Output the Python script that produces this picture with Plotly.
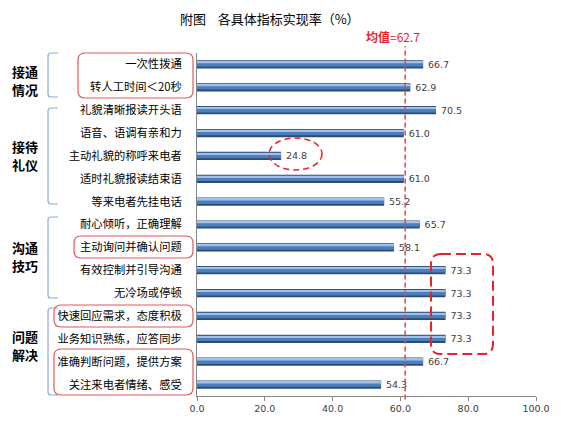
import plotly.graph_objects as go

# indicator names, top to bottom
items = [
    "一次性拨通",
    "转人工时间＜20秒",
    "礼貌清晰报读开头语",
    "语音、语调有亲和力",
    "主动礼貌的称呼来电者",
    "适时礼貌报读结束语",
    "等来电者先挂电话",
    "耐心倾听，正确理解",
    "主动询问并确认问题",
    "有效控制并引导沟通",
    "无冷场或停顿",
    "快速回应需求，态度积极",
    "业务知识熟练，应答同步",
    "准确判断问题，提供方案",
    "关注来电者情绪、感受",
]
rates = [66.7, 62.9, 70.5, 61.0, 24.8, 61.0, 55.2, 65.7, 58.1, 73.3, 73.3, 73.3, 73.3, 66.7, 54.3]
groups = [("接通", "情况"), ("接待", "礼仪"), ("沟通", "技巧"), ("问题", "解决")]
mean_label = "62.7"
mean_line_at = 61.4  # where the dashed line sits in the picture
x_ticks = [0, 20, 40, 60, 80, 100]

# the page body has an 8px margin, so the figure is drawn 8px in from the corner
OFF = 8
W, H = 561 - OFF, 427 - OFF
L, R, T, B = 197, 536, 53, 396  # plot area in page pixels


def px(x):
    return (x - L) / (R - L)


def py(y):
    return (B - y) / (B - T)


def rrect(x0, y0, x1, y1, r):
    pts = [
        ("M", [(x0 + r, y0)]),
        ("L", [(x1 - r, y0)]),
        ("Q", [(x1, y0), (x1, y0 + r)]),
        ("L", [(x1, y1 - r)]),
        ("Q", [(x1, y1), (x1 - r, y1)]),
        ("L", [(x0 + r, y1)]),
        ("Q", [(x0, y1), (x0, y1 - r)]),
        ("L", [(x0, y0 + r)]),
        ("Q", [(x0, y0), (x0 + r, y0)]),
    ]
    s = ""
    for cmd, ps in pts:
        s += cmd + " " + " ".join(f"{px(a):.4f},{py(b):.4f}" for a, b in ps) + " "
    return s + "Z"


def bracket(top, bot, x0=48, x1=58, r=3):
    return (f"M {px(x1):.4f},{py(top):.4f} L {px(x0 + r):.4f},{py(top):.4f} "
            f"Q {px(x0):.4f},{py(top):.4f} {px(x0):.4f},{py(top + r):.4f} "
            f"L {px(x0):.4f},{py(bot - r):.4f} "
            f"Q {px(x0):.4f},{py(bot):.4f} {px(x0 + r):.4f},{py(bot):.4f} "
            f"L {px(x1):.4f},{py(bot):.4f}")


fig = go.Figure()
# cylinder look: dark base, mid blue, light highlight
fig.add_trace(go.Bar(
    y=items, x=rates, orientation="h", width=0.36, offset=-0.18,
    marker=dict(color="#2B4C74", line=dict(width=0)),
    text=[f"\u2009{v:.1f}" for v in rates], textposition="outside", constraintext="none",
    textfont=dict(family="DejaVu Sans", size=9.5, color="#404040"),
    cliponaxis=False, hoverinfo="skip",
))
fig.add_trace(go.Bar(
    y=items, x=rates, orientation="h", width=0.25, offset=-0.15,
    marker=dict(color="#4A7EBD", line=dict(width=0)), hoverinfo="skip",
))
fig.add_trace(go.Bar(
    y=items, x=rates, orientation="h", width=0.07, offset=-0.12,
    marker=dict(color="#A4C0E4", line=dict(width=0)), hoverinfo="skip",
))

shapes = []
# mean line
shapes.append(dict(type="line", xref="x", yref="paper", x0=mean_line_at, x1=mean_line_at,
                   y0=-0.01, y1=1.02, line=dict(color="#DE4A4A", width=1.5, dash="5px,3px")))
# group brackets
for top, bot in [(53, 97), (108, 204), (217, 298), (308, 395)]:
    shapes.append(dict(type="path", xref="paper", yref="paper", path=bracket(top, bot),
                       line=dict(color="#8EA9D8", width=1.2)))
# red highlight boxes
for box in [(78, 53, 193, 98), (74, 236, 193, 258), (54, 305, 193, 327), (54, 349, 193, 395)]:
    shapes.append(dict(type="path", xref="paper", yref="paper", path=rrect(*box, 7),
                       line=dict(color="#E0585E", width=1.2)))
shapes.append(dict(type="path", xref="paper", yref="paper", path=rrect(431, 254, 493, 354, 10),
                   line=dict(color="#E8242A", width=2, dash="10px,5px")))
shapes.append(dict(type="circle", xref="paper", yref="paper",
                   x0=px(269), x1=px(322), y0=py(170), y1=py(138),
                   line=dict(color="#E8242A", width=1.5, dash="6px,4px")))

annotations = [
    dict(text="附图    各具体指标实现率（%）", xref="paper", yref="paper",
         x=px(270), y=py(18), xanchor="center", yanchor="middle", showarrow=False,
         font=dict(family="Noto Sans CJK SC", size=13, color="#000000")),
    dict(text=f"<b>均值</b>={mean_label}", xref="paper", yref="paper",
         x=px(393), y=py(37), xanchor="center", yanchor="middle", showarrow=False,
         font=dict(family="Noto Sans CJK SC", size=12, color="#E8242A")),
]
for (g1, g2), cy in zip(groups, [80, 155, 256, 345]):
    for txt, yy in [(g1, cy - 9), (g2, cy + 9)]:
        annotations.append(dict(text=f"<b>{txt}</b>", xref="paper", yref="paper",
                                x=px(25), y=py(yy), xanchor="center", yanchor="middle",
                                showarrow=False,
                                font=dict(family="Noto Sans CJK SC", size=13, color="#000000")))

fig.update_layout(
    width=W, height=H,
    margin=dict(l=L - OFF, r=561 - R, t=T - OFF, b=427 - B, pad=0),
    paper_bgcolor="white", plot_bgcolor="white",
    barmode="overlay", showlegend=False,
    shapes=shapes, annotations=annotations,
    xaxis=dict(range=[0, 100], tickvals=x_ticks, ticktext=[f"{t:.1f}" for t in x_ticks],
               showgrid=False, zeroline=False, showline=True, linecolor="#868686",
               ticks="outside", ticklen=4, tickcolor="#868686",
               tickfont=dict(family="DejaVu Sans", size=9.5, color="#404040")),
    yaxis=dict(autorange="reversed", showgrid=False, showline=True, linecolor="#868686",
               ticks="", ticklabelstandoff=12,
               tickfont=dict(family="Noto Sans CJK SC", size=11.3, color="#000000")),
)

fig.write_html("out.html")
